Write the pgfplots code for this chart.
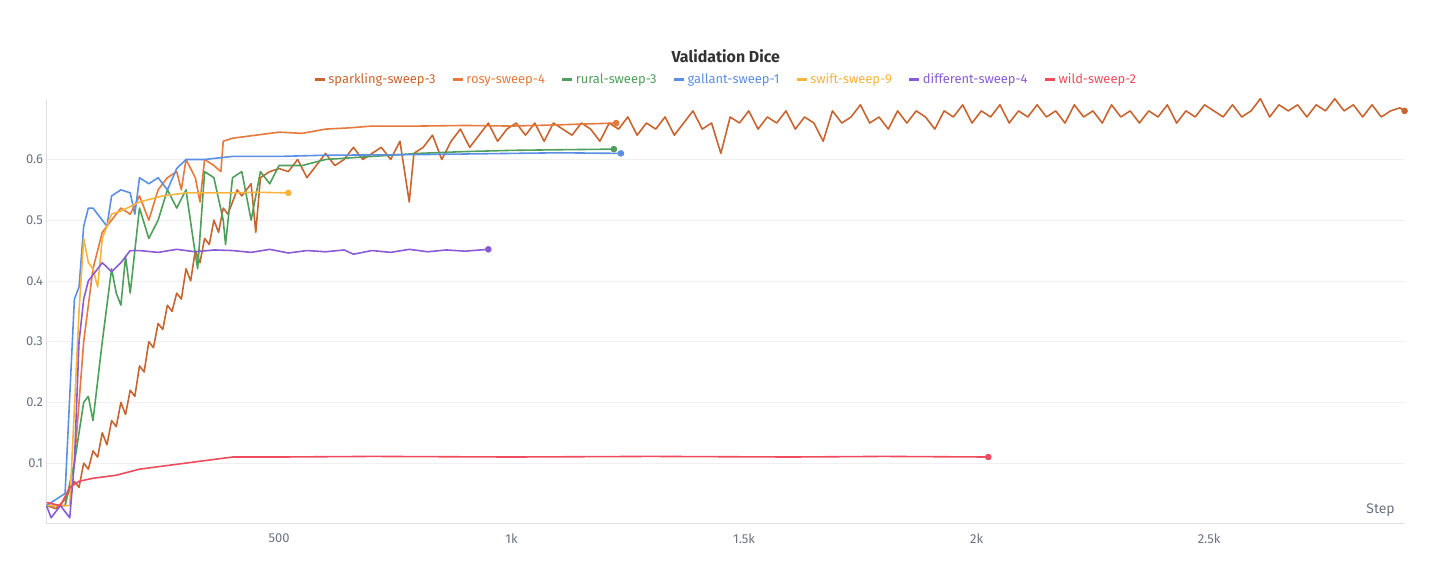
\documentclass[border=0pt]{standalone}
\usepackage{pgfplots}
\pgfplotsset{compat=1.18}
\usepackage{fontspec}
\setmainfont{Fira Sans}
\definecolor{cspark}{HTML}{C8642F}
\definecolor{crosy}{HTML}{E57A3C}
\definecolor{cgreen}{HTML}{4E9F5A}
\definecolor{cblue}{HTML}{5B8FE6}
\definecolor{cyel}{HTML}{F8B43C}
\definecolor{cpurp}{HTML}{8A5BD6}
\definecolor{cred}{HTML}{EE4B5E}
\definecolor{ctext}{HTML}{6B7280}
\begin{document}
\begin{tikzpicture}
\begin{axis}[
  name=ax,
  scale only axis, width=1359bp, height=424bp,
  xmin=0, xmax=2921, ymin=0, ymax=0.698,
  axis x line*=bottom, axis y line*=left,
  axis line style={draw=gray!25, line width=1pt},
  xtick={500,1000,1500,2000,2500}, xticklabels={500,1k,1.5k,2k,2.5k},
  ytick={0.1,0.2,0.3,0.4,0.5,0.6},
  yticklabel style={/pgf/number format/fixed, /pgf/number format/precision=1},
  /pgf/number format/assume math mode=true,
  tick label style={font=\fontsize{13}{15}\selectfont, text=ctext},
  xticklabel style={yshift=-6bp},
  major tick length=0pt,
  ymajorgrids, grid style={gray!12, line width=0.6pt},
  title={\bfseries Validation Dice}, title style={font=\fontsize{16}{18}\selectfont, text=black!80, yshift=28bp},
  legend columns=7,
  legend style={draw=none, at={(0.5,1.025)}, anchor=south, font=\fontsize{13}{15}\selectfont, /tikz/every even column/.append style={column sep=14bp}},
  legend image code/.code={\draw[line width=3pt] (0bp,0bp) -- (10bp,0bp);},
  every axis plot/.append style={line width=1.6pt, line join=round},
  clip=false,
]
\addplot[cspark, mark=none] coordinates {
(0,0.03)(20,0.025)(40,0.04)(60,0.07)(70,0.06)(80,0.10)(90,0.09)(100,0.12)(110,0.11)(120,0.15)(130,0.13)(140,0.17)(150,0.16)(160,0.2)(170,0.18)(180,0.22)(190,0.21)(200,0.26)(210,0.25)(220,0.3)(230,0.29)(240,0.33)(250,0.32)(260,0.36)(270,0.35)(280,0.38)(290,0.37)(300,0.42)(310,0.40)(320,0.45)(330,0.43)(340,0.47)(350,0.46)(360,0.5)(370,0.48)(380,0.52)(390,0.51)(400,0.53)(410,0.55)(420,0.54)(440,0.56)(450,0.48)(460,0.57)(480,0.58)(500,0.585)
(520,.58)(540,.60)(560,.57)(580,.59)(600,.61)(620,.59)(640,.60)(660,.62)(680,.60)(700,.61)(720,.62)(740,.60)(760,.63)(780,.53)(790,.61)(810,.62)(830,.64)(850,.60)(870,.63)(890,.65)(910,.62)(930,.64)(950,.66)(970,.63)(990,.65)(1010,.66)(1030,.64)(1050,.66)(1070,.63)(1090,.66)(1110,.65)(1130,.64)(1150,.66)(1170,.65)(1190,.63)(1210,.66)(1230,.65)(1250,.67)(1270,.64)(1290,.66)(1310,.65)(1330,.67)(1350,.64)(1370,.66)(1390,.68)(1410,.65)(1430,.66)(1450,.61)(1470,.67)(1490,.66)(1510,.68)(1530,.65)(1550,.67)(1570,.66)(1590,.68)(1610,.65)(1630,.67)(1650,.66)(1670,.63)(1690,.68)(1710,.66)(1730,.67)(1750,.69)(1770,.66)(1790,.67)(1810,.65)(1830,.68)(1850,.66)(1870,.68)(1890,.67)(1910,.65)(1930,.68)(1950,.67)(1970,.69)(1990,.66)(2010,.68)(2030,.67)(2050,.69)(2070,.66)(2090,.68)(2110,.67)(2130,.69)(2150,.67)(2170,.68)(2190,.66)(2210,.69)(2230,.67)(2250,.68)(2270,.66)(2290,.69)(2310,.67)(2330,.68)(2350,.66)(2370,.68)(2390,.67)(2410,.69)(2430,.66)(2450,.68)(2470,.67)(2490,.69)(2510,.68)(2530,.67)(2550,.69)(2570,.67)(2590,.68)(2610,.70)(2630,.67)(2650,.69)(2670,.68)(2690,.69)(2710,.67)(2730,.69)(2750,.68)(2770,.70)(2790,.68)(2810,.69)(2830,.67)(2850,.69)(2870,.67)(2890,.68)(2910,.685)(2920,.68)};
\addlegendentry{\textcolor{cspark}{sparkling-sweep-3}}
\addplot[crosy, mark=none] coordinates {
(0,0.03)(40,0.03)(60,0.1)(80,0.3)(100,0.42)(120,0.48)(140,0.5)(160,0.52)(180,0.51)(200,0.54)(220,0.5)(240,0.55)(260,0.57)(280,0.58)(290,0.55)(300,0.6)(320,0.57)(330,0.53)(340,0.6)(360,0.59)(375,0.58)(380,0.63)(400,0.635)(450,0.64)(500,0.645)(550,0.643)(600,0.65)(650,0.652)(700,0.655)(800,0.655)(900,0.656)(1000,0.655)(1100,0.657)(1225,0.66)};
\addlegendentry{\textcolor{crosy}{rosy-sweep-4}}
\addplot[cgreen, mark=none] coordinates {
(0,0.03)(40,0.03)(60,0.1)(80,0.2)(90,0.21)(100,0.17)(120,0.3)(140,0.42)(150,0.38)(160,0.36)(170,0.44)(180,0.38)(200,0.52)(220,0.47)(240,0.5)(260,0.55)(280,0.52)(300,0.55)(315,0.47)(325,0.42)(340,0.58)(360,0.57)(380,0.5)(385,0.46)(400,0.57)(420,0.58)(440,0.5)(460,0.58)(480,0.56)(500,0.59)(550,0.59)(600,0.6)(700,0.605)(800,0.61)(900,0.613)(1000,0.615)(1100,0.616)(1220,0.617)};
\addlegendentry{\textcolor{cgreen}{rural-sweep-3}}
\addplot[cblue, mark=none] coordinates {
(0,0.03)(40,0.05)(60,0.37)(70,0.39)(80,0.49)(90,0.52)(100,0.52)(120,0.5)(130,0.49)(140,0.54)(160,0.55)(180,0.545)(190,0.51)(200,0.57)(220,0.56)(240,0.57)(260,0.55)(280,0.585)(300,0.6)(340,0.6)(400,0.605)(500,0.605)(600,0.607)(800,0.608)(1000,0.61)(1100,0.611)(1235,0.61)};
\addlegendentry{\textcolor{cblue}{gallant-sweep-1}}
\addplot[cyel, mark=none] coordinates {
(0,0.03)(50,0.03)(70,0.35)(80,0.47)(90,0.43)(100,0.42)(110,0.39)(120,0.47)(140,0.51)(160,0.515)(200,0.53)(250,0.54)(300,0.545)(400,0.545)(450,0.546)(520,0.545)};
\addlegendentry{\textcolor{cyel}{swift-sweep-9}}
\addplot[cpurp, mark=none] coordinates {
(0,0.03)(10,0.01)(30,0.03)(50,0.01)(60,0.1)(70,0.3)(80,0.37)(90,0.4)(100,0.41)(120,0.43)(140,0.415)(160,0.43)(180,0.45)(200,0.45)(240,0.447)(280,0.452)(320,0.448)(360,0.451)(400,0.45)(440,0.447)(480,0.452)(520,0.446)(560,0.45)(600,0.448)(640,0.451)(660,0.444)(700,0.45)(740,0.447)(780,0.452)(820,0.448)(860,0.451)(900,0.449)(950,0.452)};
\addlegendentry{\textcolor{cpurp}{different-sweep-4}}
\addplot[cred, mark=none] coordinates {
(0,0.035)(30,0.03)(50,0.06)(70,0.07)(100,0.075)(150,0.08)(200,0.09)(250,0.095)(300,0.1)(350,0.105)(400,0.11)(500,0.11)(700,0.111)(1000,0.11)(1300,0.111)(1600,0.11)(1800,0.111)(2025,0.11)};
\addlegendentry{\textcolor{cred}{wild-sweep-2}}
\addplot[cspark, only marks, mark=*, mark size=2.5pt, forget plot] coordinates {(2920,0.68)};
\addplot[crosy, only marks, mark=*, mark size=2.5pt, forget plot] coordinates {(1225,0.66)};
\addplot[cgreen, only marks, mark=*, mark size=2.5pt, forget plot] coordinates {(1220,0.617)};
\addplot[cblue, only marks, mark=*, mark size=2.5pt, forget plot] coordinates {(1235,0.61)};
\addplot[cyel, only marks, mark=*, mark size=2.5pt, forget plot] coordinates {(520,0.545)};
\addplot[cpurp, only marks, mark=*, mark size=2.5pt, forget plot] coordinates {(950,0.452)};
\addplot[cred, only marks, mark=*, mark size=2.5pt, forget plot] coordinates {(2025,0.11)};
\node[anchor=south east, text=ctext, font=\fontsize{14}{16}\selectfont] at (rel axis cs:0.995,0.01) {Step};
\end{axis}
\pgfresetboundingbox
\path ([shift={(-46.5bp,-44bp)}]ax.south west) rectangle ([shift={(26bp,100bp)}]ax.north east);
\end{tikzpicture}
\end{document}
